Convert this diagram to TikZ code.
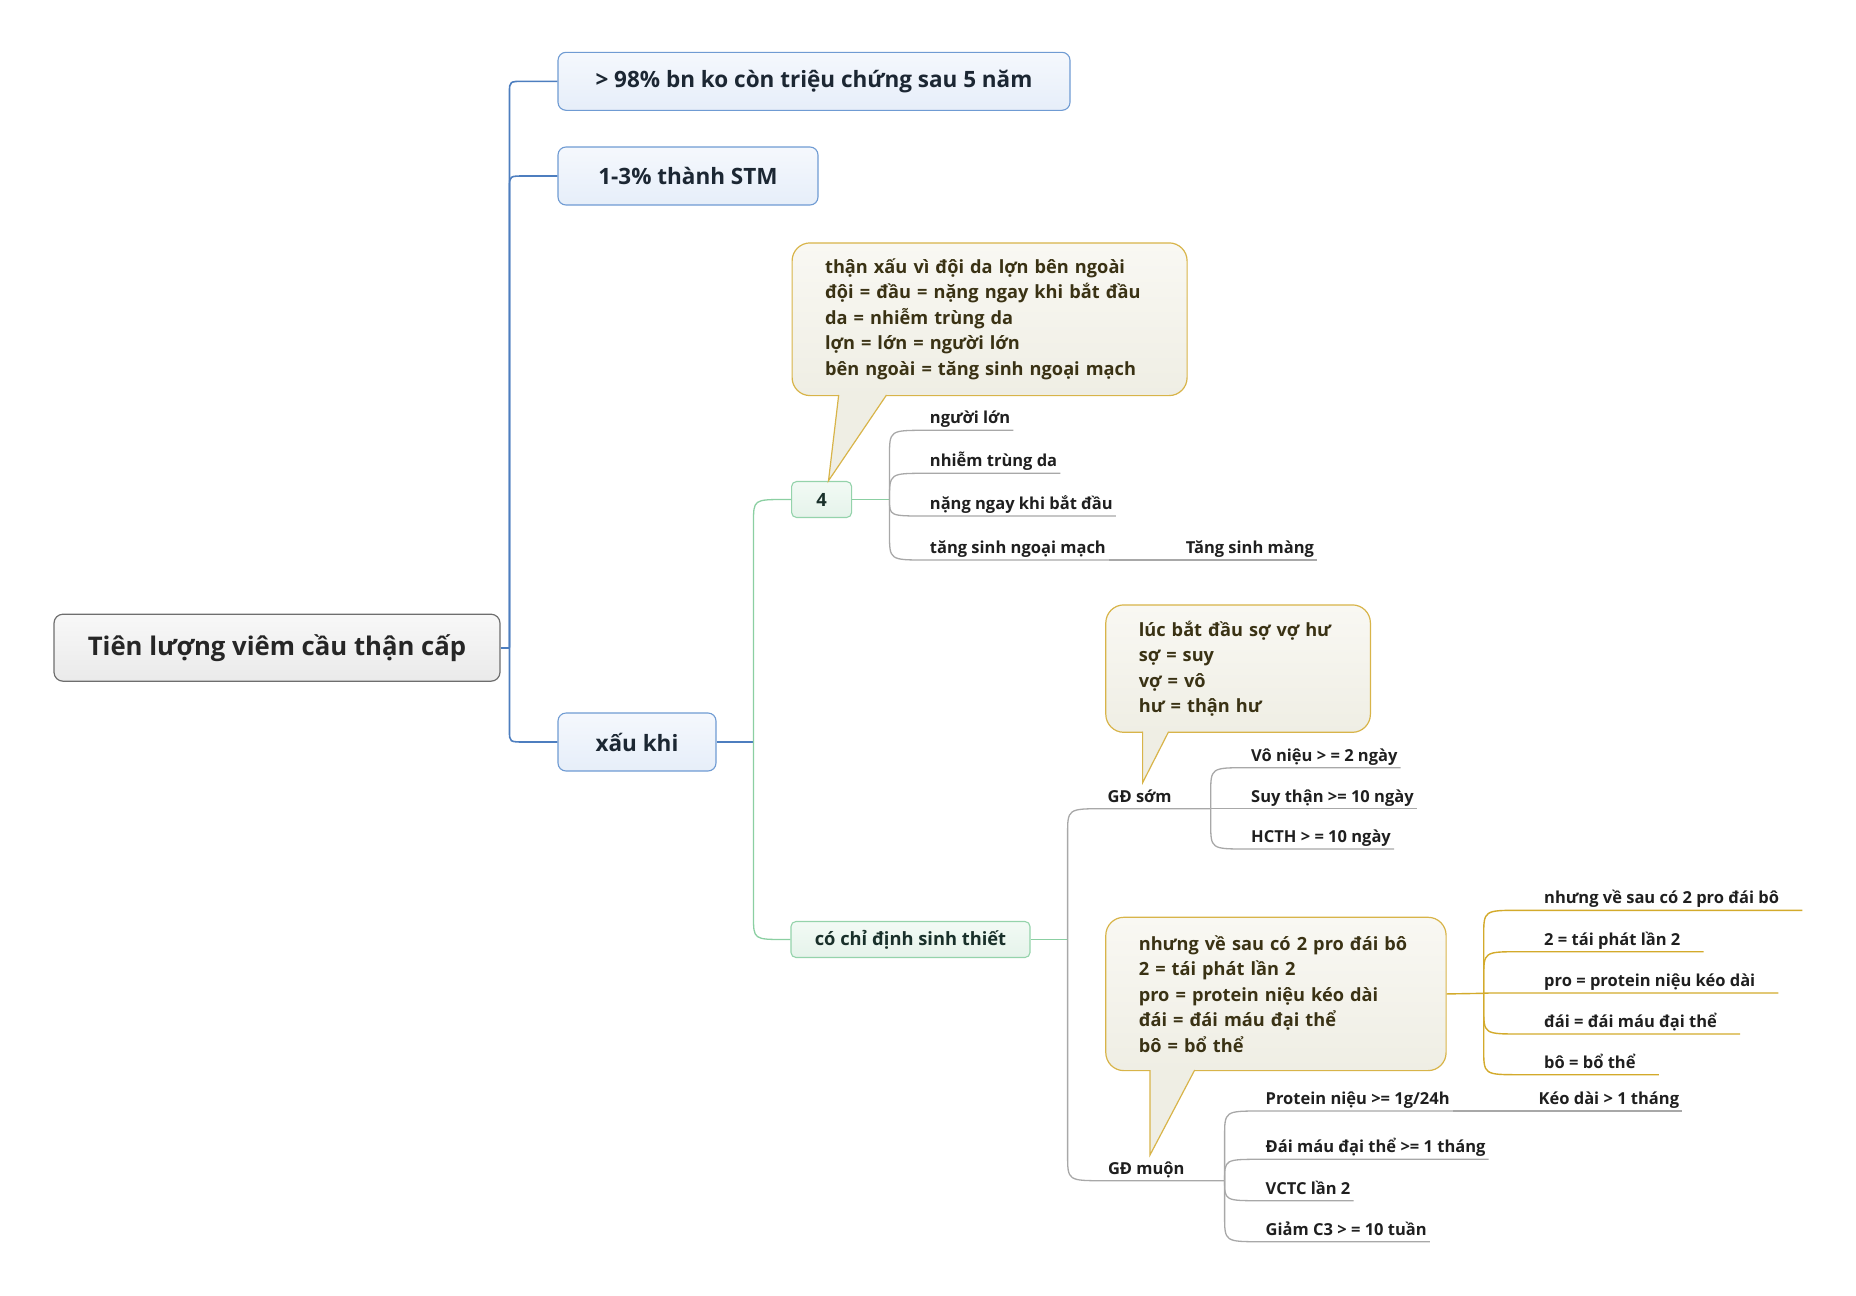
\documentclass[tikz,border=0pt]{standalone}
\usepackage{fontspec}
\setmainfont{Open Sans}

\begin{document}
\begin{tikzpicture}[x=1pt,y=-1pt]
    % Canvas
    \useasboundingbox (0,0) rectangle (1856,1296);
    % Colours
    \definecolor{rootline}{HTML}{6E6E6E}
    \definecolor{roottop}{HTML}{F8F8F8}
    \definecolor{rootbot}{HTML}{EAEAEA}
    \definecolor{roottext}{HTML}{262626}
    \definecolor{topicline}{HTML}{6F9BD3}
    \definecolor{topictop}{HTML}{F5F8FD}
    \definecolor{topicbot}{HTML}{E6EEF9}
    \definecolor{topictext}{HTML}{1C2733}
    \definecolor{bluewire}{HTML}{4D7EBF}
    \definecolor{subline}{HTML}{94D3AB}
    \definecolor{subtop}{HTML}{F2FAF5}
    \definecolor{subbot}{HTML}{E5F3EA}
    \definecolor{subtext}{HTML}{19302A}
    \definecolor{greenwire}{HTML}{8BCFA2}
    \definecolor{graywire}{HTML}{A8A8A8}
    \definecolor{leaftext}{HTML}{1F1F1F}
    \definecolor{noteline}{HTML}{D8B449}
    \definecolor{notetop}{HTML}{F9F8F3}
    \definecolor{notebot}{HTML}{EFEEE4}
    \definecolor{notetext}{HTML}{3A3214}
    \definecolor{goldwire}{HTML}{D3AA2B}
    % Fonts
    \newcommand{\titlefont}{\fontsize{25.7}{30}\selectfont\bfseries}
    \newcommand{\topicfont}{\fontsize{22.5}{27}\selectfont\bfseries}
    \newcommand{\subfont}{\fontsize{18.3}{22}\selectfont\bfseries}
    \newcommand{\notefont}{\fontsize{18.2}{25.5}\selectfont\bfseries}
    \newcommand{\leaffont}{\fontsize{16.5}{20}\selectfont\bfseries}
    % Branch with a bend: [bend]{style}{x}{y}{target}{y of target}
    \newcommand{\twig}[6][26]{%
      \pgfmathsetmacro{\twigbend}{min(#1,abs(#6-#4))*sign(#6-#4)}
      \draw[#2] (#3,#4) -- (#3,{#6-(\twigbend)}) .. controls (#3,#6) .. ({#3+1.4*#1},#6) -- (#5);
    }
    % Styles
    \tikzstyle{root}=[draw=rootline, line width=1.2pt, rounded corners=9pt, top color=roottop, bottom color=rootbot, minimum width=446, minimum height=67, font=\titlefont, text=roottext]
    \tikzstyle{topic}=[draw=topicline, line width=1.1pt, rounded corners=8pt, top color=topictop, bottom color=topicbot, minimum height=58, font=\topicfont, text=topictext]
    \tikzstyle{subtopic}=[draw=subline, line width=1.1pt, rounded corners=5pt, top color=subtop, bottom color=subbot, minimum height=36, font=\subfont, text=subtext]
    \tikzstyle{callout}=[draw=noteline, line width=1.2pt, rounded corners=18pt, top color=notetop, bottom color=notebot, anchor=north west, inner xsep=33, align=left, font=\notefont, text=notetext]
    \tikzstyle{leaf}=[anchor=south west, inner xsep=3, inner ysep=2, text height=12, text depth=4.5, font=\leaffont, text=leaftext]
    \tikzstyle{bluebranch}=[draw=bluewire, line width=1.6pt]
    \tikzstyle{greenbranch}=[draw=greenwire, line width=1.3pt]
    \tikzstyle{leafbranch}=[draw=graywire, line width=1.3pt]
    \tikzstyle{notebranch}=[draw=goldwire, line width=1.4pt]
    \tikzstyle{noteedge}=[draw=noteline, line width=1.2pt]

    % Root and main topics
    \node[root] (root) at (277,647.7) {Tiên lượng viêm cầu thận cấp};
    \node[topic, minimum width=512] (survive) at (814,81.3) {> 98\% bn ko còn triệu chứng sau 5 năm};
    \node[topic, minimum width=260] (stm) at (688,176) {1-3\% thành STM};
    \node[topic, minimum width=158] (bad) at (637,742) {xấu khi};
    \draw[bluebranch] (root.east) -- (509.5,647.7);
    \twig[11]{bluebranch}{509.5}{647.7}{survive.west}{81.3}
    \twig[11]{bluebranch}{509.5}{647.7}{stm.west}{176}
    \twig[11]{bluebranch}{509.5}{647.7}{bad.west}{742}

    % Sub topics
    \node[subtopic, minimum width=60] (four) at (821.6,499.5) {4};
    \node[subtopic, minimum width=239] (biopsy) at (910.5,939.5) {có chỉ định sinh thiết};
    \draw[bluebranch] (bad.east) -- (753.5,742);
    \twig[23]{greenbranch}{753.5}{742}{four.west}{499.5}
    \twig[23]{greenbranch}{753.5}{742}{biopsy.west}{939.5}
    \draw[greenbranch] (four.east) -- (889.5,499.5);
    \draw[greenbranch] (biopsy.east) -- (1067.6,939.5);

    % Children of 4
    \foreach \name/\yy/\txt in {adult/430.3/người lớn, skin/473.3/nhiễm trùng da, onset/516/nặng ngay khi bắt đầu, vessel/560/tăng sinh ngoại mạch}
      {
        \node[leaf] (\name) at (926.7,\yy) {\txt};
        \twig{leafbranch}{889.5}{499.5}{\name.south east}{\yy}
      }
    \node[leaf] (membrane) at (1182.6,560) {Tăng sinh màng};
    \draw[leafbranch] (vessel.south east) -- (membrane.south east);

    % Early stage
    \node[leaf] (early) at (1104.4,808.7) {GĐ sớm};
    \coordinate (earlyj) at (1210.7,808.7);
    \twig{leafbranch}{1067.6}{939.5}{earlyj}{808.7}
    \foreach \name/\yy/\txt in {anuria/767.7/Vô niệu > = 2 ngày, failure/808.7/Suy thận >= 10 ngày, nephrotic/849/HCTH > = 10 ngày}
      {
        \node[leaf] (\name) at (1248,\yy) {\txt};
        \twig{leafbranch}{1210.7}{808.7}{\name.south east}{\yy}
      }

    % Late stage
    \node[leaf] (late) at (1104.8,1180.7) {GĐ muộn};
    \coordinate (latej) at (1224.6,1180.7);
    \twig{leafbranch}{1067.6}{939.5}{latej}{1180.7}
    \node[leaf] (protein) at (1262.5,1111) {Protein niệu >= 1g/24h};
    \twig{leafbranch}{1224.6}{1180.7}{protein.south east}{1111}
    \foreach \name/\yy/\txt in {hematuria/1159.3/Đái máu đại thể >= 1 tháng, relapse/1200.7/VCTC lần 2, complement/1241.7/Giảm C3 > = 10 tuần}
      {
        \node[leaf] (\name) at (1262.5,\yy) {\txt};
        \twig{leafbranch}{1224.6}{1180.7}{\name.south east}{\yy}
      }
    \node[leaf] (longer) at (1535.4,1111) {Kéo dài > 1 tháng};
    \draw[leafbranch] (protein.south east) -- (longer.south east);

    % Callout of 4
    \node[callout, text width=329, minimum height=152.7] (mnemo1) at (791.5,242.3)
      {thận xấu vì đội da lợn bên ngoài\\ đội = đầu = nặng ngay khi bắt đầu\\ da = nhiễm trùng da\\ lợn = lớn = người lớn\\ bên ngoài = tăng sinh ngoại mạch};
    \coordinate (tip1) at (828.5,480.7);
    \fill[notebot] (838.7,392) -- (838.7,395) -- (tip1) -- (886.5,395) -- (886.5,392) -- cycle;
    \draw[noteedge] (838.7,395) -- (tip1) -- (886.5,395);

    % Callout of early stage
    \node[callout, text width=198.6, minimum height=127.4] (mnemo2) at (1105.2,604.3)
      {lúc bắt đầu sợ vợ hư\\ sợ = suy\\ vợ = vô\\ hư = thận hư};
    \coordinate (tip2) at (1142.6,782.7);
    \fill[notebot] (1142.6,728.7) -- (1142.6,731.7) -- (tip2) -- (1168.6,731.7) -- (1168.6,728.7) -- cycle;
    \draw[noteedge] (1142.6,731.7) -- (tip2) -- (1168.6,731.7);

    % Callout of late stage
    \node[callout, text width=274.3, minimum height=153.3] (mnemo3) at (1105.2,916.7)
      {nhưng về sau có 2 pro đái bô\\ 2 = tái phát lần 2\\ pro = protein niệu kéo dài\\ đái = đái máu đại thể\\ bô = bổ thể};
    \coordinate (tip3) at (1150,1155);
    \fill[notebot] (1150,1067) -- (1150,1070) -- (tip3) -- (1194.7,1070) -- (1194.7,1067) -- cycle;
    \draw[noteedge] (1150,1070) -- (tip3) -- (1194.7,1070);

    % Children of the late callout
    \draw[notebranch] (mnemo3.east) -- (1483.7,993.3);
    \foreach \name/\yy/\txt in {g1/910.3/nhưng về sau có 2 pro đái bô, g2/951.7/2 = tái phát lần 2, g3/993/pro = protein niệu kéo dài, g4/1034/đái = đái máu đại thể, g5/1074.7/bô = bổ thể}
      {
        \node[leaf] (\name) at (1541,\yy) {\txt};
        \twig{notebranch}{1483.7}{993.3}{[xshift=20pt]\name.south east}{\yy}
      }
\end{tikzpicture}
\end{document}
